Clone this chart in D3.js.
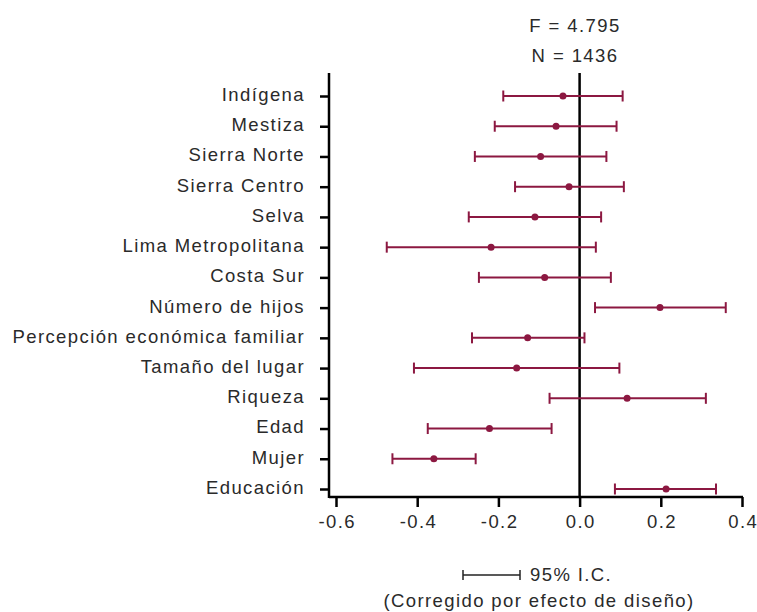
<!DOCTYPE html>
<html><head><meta charset="utf-8">
<script src="https://cdn.jsdelivr.net/npm/d3@7"></script>
<style>body{margin:0;background:#fff;} svg{display:block;}</style>
</head><body>
<script>
const categories = ["Indígena","Mestiza","Sierra Norte","Sierra Centro","Selva","Lima Metropolitana","Costa Sur","Número de hijos","Percepción económica familiar","Tamaño del lugar","Riqueza","Edad","Mujer","Educación"];
const estimates = [-0.041,-0.058,-0.096,-0.026,-0.110,-0.218,-0.086,0.198,-0.128,-0.155,0.117,-0.222,-0.359,0.213];
const lower = [-0.188,-0.209,-0.258,-0.159,-0.273,-0.475,-0.248,0.038,-0.265,-0.408,-0.074,-0.374,-0.461,0.087];
const upper = [0.106,0.091,0.066,0.109,0.053,0.040,0.077,0.360,0.012,0.098,0.311,-0.069,-0.256,0.336];
const xTicks = [-0.6,-0.4,-0.2,0.0,0.2,0.4];
const statLines = ["F = 4.795","N = 1436"];
const legendLines = ["95% I.C.","(Corregido por efecto de diseño)"];

const W=757,H=612;
const font = "'Liberation Sans', Arial, sans-serif";
const fs = 18.5, ls = 1.4;
const col = "#8c1841";
const svg = d3.select("body").append("svg").attr("width",W).attr("height",H);
const x = d3.scaleLinear().domain([-0.6,0.4]).range([336,742]);
const y = d3.scalePoint().domain(categories).range([96,489]);
const axisLeft = 329, plotTop = 73, plotBottom = 497;

function styleText(sel){ return sel.attr("font-family",font).attr("font-size",fs).attr("letter-spacing",ls).attr("fill","#2a2a2a"); }

// x axis
const xa = svg.append("g").attr("transform",`translate(0,${plotBottom})`)
  .call(d3.axisBottom(x).tickValues(xTicks).tickFormat(d3.format(".1f")).tickSize(10).tickSizeOuter(0));
xa.select(".domain").remove();
xa.selectAll(".tick line").attr("stroke","#000").attr("stroke-width",2.5);
styleText(xa.selectAll(".tick text")).attr("dy","0.98em").attr("dx",ls/2).text(d=>d3.format(".1f")(d).replace("−","-"));
svg.append("line").attr("x1",axisLeft).attr("x2",x(0.4)+1).attr("y1",plotBottom).attr("y2",plotBottom).attr("stroke","#000").attr("stroke-width",2.5);

// y axis
const ya = svg.append("g").attr("transform",`translate(${axisLeft},0)`)
  .call(d3.axisLeft(y).tickSize(9).tickPadding(15).tickSizeOuter(0));
ya.select(".domain").remove();
ya.selectAll(".tick line").attr("stroke","#000").attr("stroke-width",2.5);
styleText(ya.selectAll(".tick text")).attr("dy","0.24em");
svg.append("line").attr("x1",axisLeft).attr("x2",axisLeft).attr("y1",plotTop).attr("y2",plotBottom+1).attr("stroke","#000").attr("stroke-width",2.5);

// zero line
svg.append("line").attr("x1",x(0)).attr("x2",x(0)).attr("y1",plotTop).attr("y2",plotBottom).attr("stroke","#000").attr("stroke-width",2.5);

// error bars
const g = svg.append("g");
categories.forEach((c,i)=>{
  const yy = y(c);
  g.append("line").attr("x1",x(lower[i])).attr("x2",x(upper[i])).attr("y1",yy).attr("y2",yy).attr("stroke",col).attr("stroke-width",2);
  [lower[i],upper[i]].forEach(v=>{
    g.append("line").attr("x1",x(v)).attr("x2",x(v)).attr("y1",yy-5.5).attr("y2",yy+5.5).attr("stroke",col).attr("stroke-width",2);
  });
  g.append("circle").attr("cx",x(estimates[i])).attr("cy",yy).attr("r",3.5).attr("fill",col);
});

// stats
styleText(svg.selectAll("text.stat").data(statLines).enter().append("text").attr("class","stat")
  .attr("x",575).attr("y",(d,i)=>32+i*30).attr("text-anchor","middle")).text(d=>d);

// legend
const ly=575;
svg.append("line").attr("x1",463).attr("x2",520).attr("y1",ly).attr("y2",ly).attr("stroke","#222").attr("stroke-width",1.5);
[463,520].forEach(xx=>svg.append("line").attr("x1",xx).attr("x2",xx).attr("y1",ly-5).attr("y2",ly+5).attr("stroke","#222").attr("stroke-width",1.5));
styleText(svg.append("text").attr("x",530).attr("y",ly+6)).text(legendLines[0]);
styleText(svg.append("text").attr("x",539).attr("y",607).attr("text-anchor","middle")).text(legendLines[1]);
</script>
</body></html>
